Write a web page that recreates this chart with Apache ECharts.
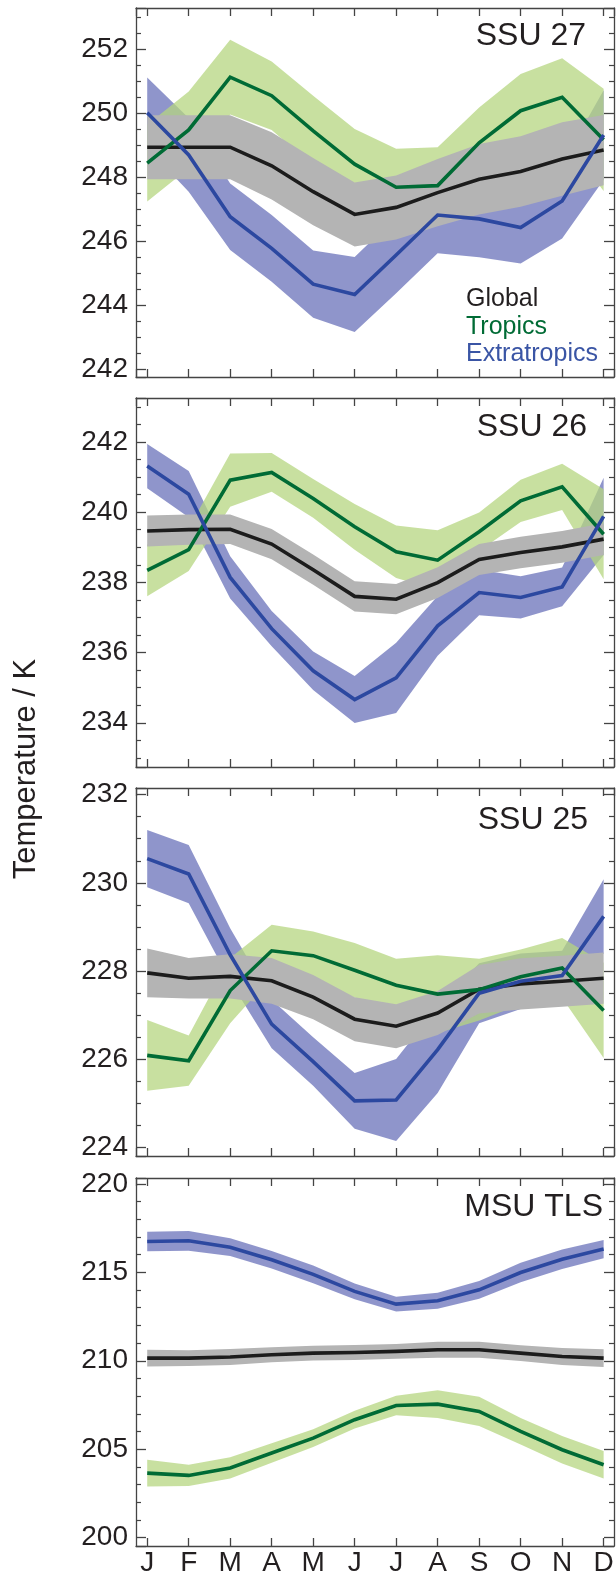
<!DOCTYPE html>
<html>
<head>
<meta charset="utf-8">
<script src="https://cdn.jsdelivr.net/npm/echarts@6/dist/echarts.min.js"></script>
<style>
  html, body { margin: 0; padding: 0; background: #fff; }
  #chart { width: 616px; height: 1574px; }
</style>
</head>
<body>
<div id="chart"></div>
<script>
// month labels along the bottom
var months = ['J', 'F', 'M', 'A', 'M', 'J', 'J', 'A', 'S', 'O', 'N', 'D'];

// SSU 27
var ssu27Global = [248.93, 248.93, 248.93, 248.35, 247.54, 246.83, 247.05, 247.51, 247.93, 248.17, 248.56, 248.84];
var ssu27GlobalErr = [1.0, 1.0, 1.0, 1.05, 1.05, 1.0, 1.0, 1.05, 1.1, 1.1, 1.15, 1.1];
var ssu27Tropics = [248.43, 249.47, 251.12, 250.54, 249.44, 248.40, 247.68, 247.73, 249.07, 250.07, 250.49, 249.16];
var ssu27TropicsErr = [1.2, 1.2, 1.17, 1.07, 1.1, 1.1, 1.2, 1.2, 1.1, 1.15, 1.22, 1.6];
var ssu27Extra = [250.01, 248.69, 246.76, 245.77, 244.65, 244.33, 245.56, 246.81, 246.69, 246.42, 247.25, 249.31];
var ssu27ExtraErr = [1.1, 1.15, 1.04, 1.04, 1.05, 1.17, 1.19, 1.19, 1.2, 1.12, 1.17, 1.4];

// SSU 26
var ssu26Global = [239.46, 239.50, 239.51, 239.09, 238.36, 237.60, 237.52, 237.99, 238.65, 238.85, 239.01, 239.23];
var ssu26GlobalErr = [0.44, 0.43, 0.42, 0.43, 0.43, 0.43, 0.43, 0.44, 0.44, 0.45, 0.45, 0.45];
var ssu26Tropics = [238.34, 238.93, 240.91, 241.13, 240.39, 239.58, 238.87, 238.63, 239.44, 240.32, 240.72, 239.37];
var ssu26TropicsErr = [0.74, 0.61, 0.76, 0.55, 0.55, 0.65, 0.75, 0.85, 0.55, 0.6, 0.66, 1.28];
var ssu26Extra = [241.31, 240.51, 238.14, 236.68, 235.48, 234.66, 235.28, 236.76, 237.71, 237.57, 237.87, 239.88];
var ssu26ExtraErr = [0.63, 0.66, 0.6, 0.5, 0.55, 0.67, 1.0, 0.85, 0.65, 0.6, 0.55, 1.1];

// SSU 25
var ssu25Global = [227.96, 227.84, 227.88, 227.78, 227.41, 226.91, 226.75, 227.05, 227.59, 227.71, 227.77, 227.84];
var ssu25GlobalErr = [0.55, 0.46, 0.5, 0.52, 0.5, 0.5, 0.5, 0.5, 0.55, 0.58, 0.58, 0.58];
var ssu25Tropics = [226.09, 225.97, 227.56, 228.46, 228.35, 228.02, 227.68, 227.48, 227.58, 227.87, 228.07, 227.11];
var ssu25TropicsErr = [0.8, 0.57, 0.74, 0.59, 0.55, 0.62, 0.6, 0.88, 0.7, 0.62, 0.68, 1.08];
var ssu25Extra = [230.55, 230.20, 228.37, 226.80, 225.95, 225.06, 225.08, 226.22, 227.50, 227.77, 227.90, 229.24];
var ssu25ExtraErr = [0.65, 0.66, 0.6, 0.55, 0.55, 0.63, 0.93, 0.98, 0.68, 0.63, 0.56, 0.84];

// MSU TLS
var tlsGlobal = [210.15, 210.15, 210.21, 210.34, 210.43, 210.47, 210.53, 210.62, 210.62, 210.43, 210.24, 210.15];
var tlsGlobalErr = [0.47, 0.45, 0.45, 0.42, 0.42, 0.42, 0.42, 0.45, 0.45, 0.45, 0.48, 0.5];
var tlsTropics = [203.65, 203.52, 203.94, 204.79, 205.63, 206.67, 207.47, 207.55, 207.14, 206.01, 204.97, 204.12];
var tlsTropicsErr = [0.75, 0.6, 0.6, 0.55, 0.5, 0.5, 0.55, 0.78, 0.83, 0.75, 0.78, 0.78];
var tlsExtra = [216.74, 216.78, 216.42, 215.71, 214.88, 213.92, 213.20, 213.39, 214.01, 214.99, 215.74, 216.31];
var tlsExtraErr = [0.55, 0.56, 0.5, 0.5, 0.5, 0.45, 0.42, 0.45, 0.5, 0.55, 0.55, 0.52];

var legendNames = ['Global', 'Tropics', 'Extratropics'];

var FONT = '"Liberation Sans", Arial, Helvetica, sans-serif';
var TEXT = '#231f20';
var FRAME = '#444444';

var lineColors = { global: '#1c1c1c', tropics: '#006b35', extra: '#2c48a0' };
var bandColors = {
    global: 'rgb(180,180,180)',
    tropics: 'rgba(182,214,128,0.75)',
    extra: 'rgba(106,114,186,0.75)'
};

var panels = [
    { title: 'SSU 27', titleX: 586, titleDy: 28.5, top: 8, height: 369, min: 241.75, max: 253.28, step: 2, minor: 4,
      g: ssu27Global, ge: ssu27GlobalErr, t: ssu27Tropics, te: ssu27TropicsErr, e: ssu27Extra, ee: ssu27ExtraErr },
    { title: 'SSU 26', titleX: 587, titleDy: 29.5, top: 398, height: 369, min: 232.74, max: 243.25, step: 2, minor: 4,
      g: ssu26Global, ge: ssu26GlobalErr, t: ssu26Tropics, te: ssu26TropicsErr, e: ssu26Extra, ee: ssu26ExtraErr },
    { title: 'SSU 25', titleX: 588, titleDy: 32.5, top: 788, height: 368, min: 223.81, max: 232.15, step: 2, minor: 4,
      g: ssu25Global, ge: ssu25GlobalErr, t: ssu25Tropics, te: ssu25TropicsErr, e: ssu25Extra, ee: ssu25ExtraErr },
    { title: 'MSU TLS', titleX: 603, titleDy: 29, top: 1178, height: 368, min: 199.53, max: 220.33, step: 5, minor: 5,
      g: tlsGlobal, ge: tlsGlobalErr, t: tlsTropics, te: tlsTropicsErr, e: tlsExtra, ee: tlsExtraErr }
];

var grids = [];
var xAxes = [];
var yAxes = [];
var series = [];
var graphics = [];

function frameLine() {
    return { show: true, onZero: false, lineStyle: { color: FRAME, width: 1.3 } };
}

// uncertainty band: one polygon through the low points and back along the high points
function addBand(i, mean, err, color) {
    var rows = mean.map(function (m, k) { return [k, m - err[k], m + err[k]]; });
    series.push({
        type: 'custom', xAxisIndex: 2 * i, yAxisIndex: 2 * i,
        data: rows, encode: { x: 0, y: [1, 2] }, silent: true, clip: true, z: 2,
        renderItem: function (params, api) {
            if (params.dataIndex !== 0) return null;
            var pts = [];
            rows.forEach(function (r) { pts.push(api.coord([r[0], r[1]])); });
            for (var k = rows.length - 1; k >= 0; k--) pts.push(api.coord([rows[k][0], rows[k][2]]));
            return { type: 'polygon', shape: { points: pts }, style: { fill: color } };
        }
    });
}

function addLine(i, mean, color) {
    series.push({
        type: 'line', xAxisIndex: 2 * i, yAxisIndex: 2 * i,
        data: mean.map(function (m, k) { return [k, m]; }),
        symbol: 'none', silent: true, z: 3,
        lineStyle: { color: color, width: 3.6, join: 'miter' }
    });
}

panels.forEach(function (p, i) {
    grids.push({ left: 136, width: 478, top: p.top, height: p.height, containLabel: false, outerBoundsMode: 'none' });

    [ 'bottom', 'top' ].forEach(function (pos) {
        xAxes.push({
            type: 'value', gridIndex: i, position: pos,
            min: -0.27, max: 11.25, minInterval: 1, maxInterval: 1,
            axisLine: frameLine(),
            axisTick: { show: true, inside: true, length: 8, lineStyle: { color: FRAME, width: 1.3 } },
            axisLabel: {
                show: pos === 'bottom' && i === 3, margin: 3,
                showMinLabel: false, showMaxLabel: false,
                fontSize: 28, fontFamily: FONT, color: TEXT,
                formatter: function (v) { return months[v] || ''; }
            },
            splitLine: { show: false }
        });
    });

    [ 'left', 'right' ].forEach(function (pos) {
        yAxes.push({
            type: 'value', gridIndex: i, position: pos,
            min: p.min, max: p.max, minInterval: p.step, maxInterval: p.step,
            axisLine: frameLine(),
            axisTick: { show: true, inside: true, length: 10, lineStyle: { color: FRAME, width: 1.3 } },
            minorTick: { show: true, splitNumber: p.minor, length: 5, lineStyle: { color: FRAME, width: 1.2 } },
            axisLabel: {
                show: pos === 'left', margin: 8,
                showMinLabel: false, showMaxLabel: false,
                fontSize: 28, fontFamily: FONT, color: TEXT
            },
            splitLine: { show: false },
            minorSplitLine: { show: false }
        });
    });

    addBand(i, p.e, p.ee, bandColors.extra);
    addBand(i, p.t, p.te, bandColors.tropics);
    addBand(i, p.g, p.ge, bandColors.global);
    addLine(i, p.g, lineColors.global);
    addLine(i, p.t, lineColors.tropics);
    addLine(i, p.e, lineColors.extra);

    graphics.push({
        type: 'text', x: p.titleX, y: p.top + p.titleDy, z: 10,
        style: { text: p.title, fontSize: 32, fontFamily: FONT, fill: TEXT, align: 'right', verticalAlign: 'middle' }
    });
});

// legend text in the first panel
[TEXT, lineColors.tropics, '#3a55a5'].forEach(function (c, k) {
    graphics.push({
        type: 'text', x: 466, y: 299.5 + k * 27.3, z: 10,
        style: { text: legendNames[k], fontSize: 25, fontFamily: FONT, fill: c, align: 'left', verticalAlign: 'middle' }
    });
});

// shared y axis title
graphics.push({
    type: 'text', x: 26, y: 769, rotation: Math.PI / 2, z: 10,
    style: { text: 'Temperature / K', fontSize: 31, fontFamily: FONT, fill: TEXT, align: 'center', verticalAlign: 'middle' }
});

var option = {
    animation: false,
    backgroundColor: '#ffffff',
    grid: grids,
    xAxis: xAxes,
    yAxis: yAxes,
    series: series,
    graphic: graphics
};

var myChart = echarts.init(document.getElementById('chart'));
myChart.setOption(option);
</script>
</body>
</html>
